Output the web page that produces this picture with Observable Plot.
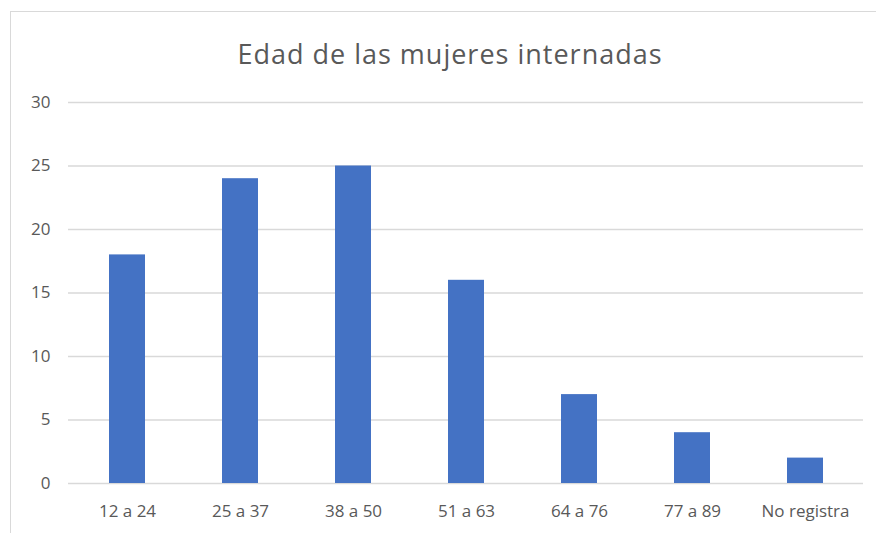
<!DOCTYPE html>
<html>
<head>
<meta charset="utf-8">
<script src="https://cdn.jsdelivr.net/npm/d3@7"></script>
<script src="https://cdn.jsdelivr.net/npm/@observablehq/plot@0.6"></script>
<style>
  html, body { margin: 0; padding: 0; background: #fff; }
  body { width: 876px; height: 533px; position: relative; overflow: hidden; font-family: "Open Sans", sans-serif; }
  #frame { position: absolute; left: 10px; top: 11px; width: 900px; height: 540px; border-left: 1.5px solid #d9d9d9; border-top: 1.5px solid #d9d9d9; box-sizing: border-box; }
  #title { position: absolute; left: 10px; top: 19px; width: 880px; height: 69px; text-align: center; font-size: 27px; color: #595959; line-height: 69px; letter-spacing: 1px; }
  #chart { position: absolute; left: 0; top: 80px; }
</style>
</head>
<body>
<div id="frame"></div>
<div id="title">Edad de las mujeres internadas</div>
<div id="chart"></div>
<script>
const categories = ["12 a 24", "25 a 37", "38 a 50", "51 a 63", "64 a 76", "77 a 89", "No registra"];
const values = [18, 24, 25, 16, 7, 4, 2];
const yTicks = [0, 5, 10, 15, 20, 25, 30];

const data = categories.map((c, i) => ({category: c, value: values[i]}));

const chart = Plot.plot({
  width: 876,
  height: 453,
  marginLeft: 68,
  marginRight: 13,
  marginTop: 22,
  marginBottom: 50,
  style: {fontFamily: "Open Sans, sans-serif", fontSize: "17px", color: "#595959", background: "transparent"},
  x: {domain: categories, paddingInner: 0.683, paddingOuter: 0.3415, label: null, tickSize: 0, tickPadding: 21},
  y: {domain: [0, 30], ticks: yTicks, label: null, tickSize: 0, tickPadding: 18},
  marks: [
    Plot.ruleY(yTicks, {stroke: "#d9d9d9", strokeWidth: 1.5}),
    Plot.barY(data, {x: "category", y: "value", fill: "#4472C4"})
  ]
});
document.getElementById("chart").appendChild(chart);
</script>
</body>
</html>
